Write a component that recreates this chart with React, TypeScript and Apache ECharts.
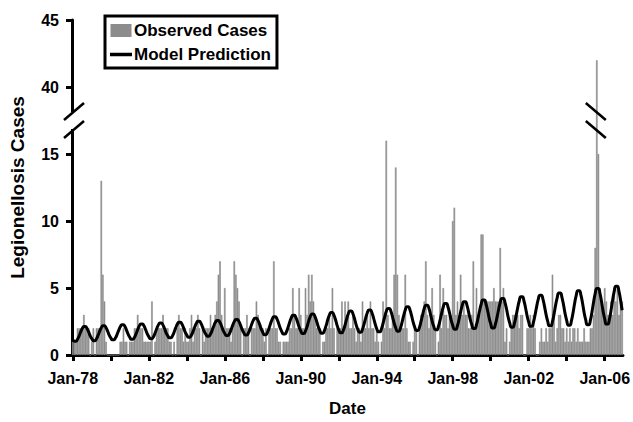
import React, { useEffect, useRef } from "react";
import * as echarts from "echarts";

const firstYear = 1978;
const lastYear = 2006;
const monthNames = ["Jan", "Feb", "Mar", "Apr", "May", "Jun", "Jul", "Aug", "Sep", "Oct", "Nov", "Dec"];

// Observed monthly cases
const observed1978to1987 = [
  1, 1, 1, 2, 2, 2, 2, 3, 2, 2, 2, 0,
  1, 2, 0, 2, 2, 2, 13, 6, 4, 1, 0, 0,
  0, 0, 0, 0, 0, 0, 1, 1, 2, 1, 1, 0,
  1, 1, 1, 2, 2, 3, 2, 2, 2, 1, 1, 1,
  1, 1, 4, 0, 1, 2, 2, 2, 2, 3, 2, 2,
  2, 1, 1, 0, 1, 0, 2, 3, 2, 2, 1, 2,
  1, 1, 2, 3, 1, 2, 2, 3, 2, 0, 2, 1,
  2, 2, 2, 3, 2, 2, 3, 4, 6, 7, 3, 2,
  5, 2, 2, 2, 1, 2, 7, 6, 5, 4, 2, 0,
  2, 2, 3, 2, 0, 2, 2, 2, 4, 3, 2, 2,
];
const observed1988to1997 = [
  2, 1, 2, 0, 2, 2, 2, 7, 2, 2, 1, 1,
  0, 1, 1, 1, 1, 2, 2, 5, 3, 2, 2, 5,
  3, 2, 2, 5, 3, 6, 4, 6, 4, 3, 2, 2,
  2, 0, 1, 1, 2, 2, 3, 2, 5, 2, 0, 2,
  2, 2, 4, 2, 4, 3, 4, 2, 2, 3, 2, 1,
  2, 2, 1, 4, 2, 2, 3, 2, 4, 2, 2, 1,
  2, 1, 0, 1, 4, 2, 16, 3, 2, 2, 3, 6,
  14, 6, 3, 2, 2, 2, 6, 2, 1, 1, 0, 1,
  2, 2, 0, 2, 3, 3, 4, 7, 3, 2, 3, 5,
  3, 2, 0, 1, 6, 2, 5, 3, 3, 2, 3, 3,
];
const observed1998to2006 = [
  10, 11, 3, 4, 3, 6, 3, 4, 3, 3, 2, 2,
  3, 7, 2, 5, 3, 3, 9, 9, 4, 4, 4, 4,
  4, 4, 5, 4, 4, 4, 8, 4, 5, 1, 2, 0,
  1, 2, 3, 3, 3, 3, 2, 3, 3, 0, 0, 2,
  2, 3, 2, 3, 2, 0, 0, 1, 2, 1, 1, 2,
  1, 2, 2, 6, 3, 1, 2, 3, 3, 2, 2, 1,
  2, 1, 2, 1, 2, 2, 1, 2, 1, 1, 1, 2,
  1, 1, 1, 2, 2, 3, 8, 42, 15, 5, 4, 3,
  5, 4, 3, 3, 4, 3, 5, 4, 5, 3, 4, 4,
];

// Model prediction (monthly)
const model1978to1987 = [
  1.17, 1.02, 1.02, 1.17, 1.42, 1.72, 1.97, 2.12, 2.12, 1.97, 1.72, 1.42,
  1.22, 1.07, 1.07, 1.22, 1.48, 1.78, 2.04, 2.19, 2.19, 2.04, 1.78, 1.48,
  1.28, 1.13, 1.13, 1.28, 1.54, 1.84, 2.10, 2.25, 2.25, 2.10, 1.84, 1.54,
  1.32, 1.17, 1.17, 1.32, 1.59, 1.89, 2.16, 2.31, 2.31, 2.16, 1.89, 1.59,
  1.37, 1.22, 1.22, 1.37, 1.64, 1.96, 2.23, 2.38, 2.38, 2.23, 1.96, 1.64,
  1.43, 1.28, 1.28, 1.43, 1.70, 2.02, 2.29, 2.44, 2.44, 2.29, 2.02, 1.70,
  1.49, 1.33, 1.33, 1.49, 1.76, 2.08, 2.35, 2.51, 2.51, 2.35, 2.08, 1.76,
  1.56, 1.40, 1.40, 1.56, 1.83, 2.15, 2.42, 2.58, 2.58, 2.42, 2.15, 1.83,
  1.61, 1.45, 1.45, 1.61, 1.89, 2.21, 2.49, 2.65, 2.65, 2.49, 2.21, 1.89,
  1.66, 1.49, 1.49, 1.66, 1.95, 2.29, 2.58, 2.75, 2.75, 2.58, 2.29, 1.95,
];
const model1988to1997 = [
  1.70, 1.52, 1.52, 1.70, 2.01, 2.37, 2.68, 2.86, 2.86, 2.68, 2.37, 2.01,
  1.75, 1.56, 1.56, 1.75, 2.07, 2.45, 2.77, 2.96, 2.96, 2.77, 2.45, 2.07,
  1.80, 1.60, 1.60, 1.80, 2.13, 2.53, 2.86, 3.06, 3.06, 2.86, 2.53, 2.13,
  1.84, 1.63, 1.63, 1.84, 2.19, 2.61, 2.96, 3.17, 3.17, 2.96, 2.61, 2.19,
  1.88, 1.66, 1.66, 1.88, 2.25, 2.69, 3.06, 3.28, 3.28, 3.06, 2.69, 2.25,
  1.92, 1.70, 1.70, 1.92, 2.31, 2.75, 3.14, 3.36, 3.36, 3.14, 2.75, 2.31,
  1.96, 1.73, 1.73, 1.96, 2.37, 2.83, 3.24, 3.47, 3.47, 3.24, 2.83, 2.37,
  2.02, 1.78, 1.78, 2.02, 2.45, 2.93, 3.36, 3.60, 3.60, 3.36, 2.93, 2.45,
  2.07, 1.82, 1.82, 2.07, 2.52, 3.02, 3.47, 3.72, 3.72, 3.47, 3.02, 2.52,
  2.14, 1.88, 1.88, 2.14, 2.60, 3.12, 3.58, 3.84, 3.84, 3.58, 3.12, 2.60,
];
const model1998to2006 = [
  2.20, 1.93, 1.93, 2.20, 2.68, 3.22, 3.70, 3.97, 3.97, 3.70, 3.22, 2.68,
  2.27, 1.98, 1.98, 2.27, 2.76, 3.32, 3.81, 4.10, 4.10, 3.81, 3.32, 2.76,
  2.32, 2.02, 2.02, 2.32, 2.83, 3.41, 3.92, 4.22, 4.22, 3.92, 3.41, 2.83,
  2.39, 2.08, 2.08, 2.39, 2.91, 3.51, 4.03, 4.34, 4.34, 4.03, 3.51, 2.91,
  2.45, 2.14, 2.14, 2.45, 2.99, 3.61, 4.15, 4.46, 4.46, 4.15, 3.61, 2.99,
  2.51, 2.18, 2.18, 2.51, 3.07, 3.73, 4.29, 4.62, 4.62, 4.29, 3.73, 3.07,
  2.57, 2.22, 2.22, 2.57, 3.16, 3.86, 4.45, 4.80, 4.80, 4.45, 3.86, 3.16,
  2.62, 2.26, 2.26, 2.62, 3.25, 3.97, 4.60, 4.96, 4.96, 4.60, 3.97, 3.25,
  2.69, 2.31, 2.31, 2.69, 3.34, 4.10, 4.75, 5.13, 5.13, 4.75, 4.10, 3.34,
];

// Y axis: linear 0..15, break, then 40..45
const yTickValues = [0, 5, 10, 15, 40, 45];
const breakLow = 15;
const breakHigh = 40;
const breakShift = 20; // 40 drawn at display position 20

const categories: string[] = [];
for (let y = firstYear; y <= lastYear; y++) {
  for (const m of monthNames) categories.push(`${m}-${String(y).slice(2)}`);
}
const observed = [...observed1978to1987, ...observed1988to1997, ...observed1998to2006];
const model = [...model1978to1987, ...model1988to1997, ...model1998to2006];
const toDisplay = (v: number) => (v >= breakHigh - 10 ? v - breakShift : v);
const fromDisplay = (v: number) => (v > breakLow ? v + breakShift : v);

const FONT = "Liberation Sans, Arial, Helvetica, sans-serif";
const BAR_GRAY = "#8c8c8c";

export default function App() {
  const ref = useRef<HTMLDivElement>(null);
  useEffect(() => {
    const chart = echarts.init(ref.current!, null, { renderer: "svg" });
    const option: any = {
      animation: false,
      backgroundColor: "#ffffff",
      textStyle: { fontFamily: FONT },
      grid: { left: 70, right: 7, top: 20, bottom: 65 },
      legend: {
        left: 105,
        top: 16,
        orient: "vertical",
        borderColor: "#000",
        borderWidth: 3,
        padding: [6, 6, 5, 5],
        itemGap: 7,
        itemWidth: 22,
        itemHeight: 11,
        symbolKeepAspect: true,
        textStyle: { fontFamily: FONT, fontSize: 17, fontWeight: "bold", color: "#000", padding: [0, 0, 0, -3] },
        data: [
          { name: "Observed Cases", icon: "path://M0,0 H19 V11 H0 Z" },
          { name: "Model Prediction", icon: "path://M0,0 H22 V3.5 H0 Z" },
        ],
      },
      xAxis: {
        type: "category",
        data: categories,
        boundaryGap: true,
        name: "Date",
        nameLocation: "middle",
        nameGap: 45,
        nameTextStyle: { fontFamily: FONT, fontSize: 17, fontWeight: "bold", color: "#000" },
        axisLine: { lineStyle: { color: "#000", width: 3 } },
        axisTick: {
          show: true,
          interval: (i: number) => i % 24 === 0,
          alignWithLabel: true,
          length: 6,
          lineStyle: { color: "#000", width: 3 },
        },
        axisLabel: {
          interval: (i: number) => i % 48 === 0,
          margin: 15,
          fontFamily: FONT,
          fontSize: 16,
          fontWeight: "bold",
          color: "#000",
        },
        splitLine: { show: false },
      },
      yAxis: {
        type: "value",
        min: 0,
        max: toDisplay(yTickValues[yTickValues.length - 1]),
        interval: 5,
        name: "Legionellosis Cases",
        nameLocation: "middle",
        nameGap: 45,
        nameTextStyle: { fontFamily: FONT, fontSize: 19, fontWeight: "bold", color: "#000" },
        axisLine: { show: true, lineStyle: { color: "#000", width: 3 } },
        axisTick: { show: true, length: 6, lineStyle: { color: "#000", width: 3 } },
        axisLabel: {
          margin: 13,
          fontFamily: FONT,
          fontSize: 16,
          fontWeight: "bold",
          color: "#000",
          formatter: (v: number) => String(fromDisplay(v)),
        },
        splitLine: { show: false },
      },
      series: [
        {
          name: "Observed Cases",
          type: "bar",
          data: observed.map(toDisplay),
          barCategoryGap: "0%",
          itemStyle: { color: BAR_GRAY, borderColor: BAR_GRAY, borderWidth: 0.6 },
          z: 2,
        },
        {
          name: "Model Prediction",
          type: "line",
          data: model,
          smooth: true,
          symbol: "none",
          lineStyle: { color: "#000", width: 3 },
          itemStyle: { color: "#000" },
          z: 3,
        },
      ],
    };
    chart.setOption(option);

    // Axis break marks
    const midY = chart.convertToPixel({ yAxisIndex: 0 }, 17.5) as number;
    const axisX = (chart.convertToPixel({ gridIndex: 0 }, [0, 0]) as number[])[0] - 0.8;
    const spikeIndex = observed.indexOf(Math.max(...observed));
    const spikeX = chart.convertToPixel({ xAxisIndex: 0 }, spikeIndex) as number;
    const slash = (cx: number, cy: number, dir: number) => ({
      type: "line",
      shape: { x1: cx - 10, y1: cy + dir * 8.5, x2: cx + 10, y2: cy - dir * 8.5 },
      style: { stroke: "#000", lineWidth: 2.5 },
      z: 100,
    });
    chart.setOption({
      graphic: [
        {
          type: "rect",
          shape: { x: axisX - 4, y: midY - 8.5, width: 8, height: 17 },
          style: { fill: "#fff" },
          z: 99,
        },
        slash(axisX + 2, midY - 9, 1),
        slash(axisX + 2, midY + 9, 1),
        slash(spikeX - 1, midY - 9, -1),
        slash(spikeX - 1, midY + 9, -1),
      ],
    });
    return () => chart.dispose();
  }, []);
  return (
    <div
      ref={ref}
      style={{ position: "fixed", left: 0, top: 0, width: 633, height: 422, background: "#fff" }}
    />
  );
}
